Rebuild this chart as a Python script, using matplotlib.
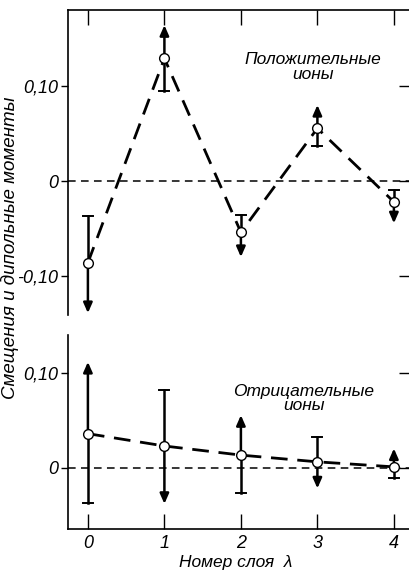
import matplotlib
matplotlib.use("Agg")
import matplotlib.pyplot as plt
import numpy as np

# layer number
lam = [0, 1, 2, 3, 4]

# positive ions: value, upper end, lower end, which end carries an arrow
pos_val = [-0.086, 0.129, -0.054, 0.0555, -0.022]
pos_hi = [-0.037, 0.164, -0.036, 0.080, -0.0095]
pos_lo = [-0.139, 0.095, -0.080, 0.037, -0.0445]
pos_arrow = ['down', 'up', 'down', 'up', 'down']

# negative ions
neg_val = [0.036, 0.023, 0.0134, 0.0063, 0.001]
neg_hi = [0.1116, 0.0825, 0.0555, 0.0326, 0.0204]
neg_lo = [-0.0375, -0.038, -0.027, -0.0217, -0.011]
neg_arrow = ['up', 'down', 'up', 'down', 'up']

xticks = [0, 1, 2, 3, 4]
xticklabels = ['0', '1', '2', '3', '4']

FONT = ['Liberation Sans', 'DejaVu Sans']
plt.rcParams['font.family'] = FONT
plt.rcParams['font.style'] = 'italic'

fig = plt.figure(figsize=(4.1, 5.7), dpi=100)
ax1 = fig.add_axes([0.1659, 0.4474, 0.834, 0.5351])
ax2 = fig.add_axes([0.1659, 0.0719, 0.834, 0.3404])


def draw_series(ax, val, hi, lo, arrow):
    ax.plot(lam, val, color='black', lw=2.0, dashes=(6, 3.5), zorder=3)
    for x, v, h, l, a in zip(lam, val, hi, lo, arrow):
        if a == 'up':
            tip, cap = h, l
        else:
            tip, cap = l, h
        # cap side
        ax.plot([x, x], [v, cap], color='black', lw=1.8, zorder=2)
        ax.plot([x - 0.065, x + 0.065], [cap, cap], color='black', lw=1.4, zorder=2)
        # arrow side
        ax.annotate('', xy=(x, tip), xytext=(x, v),
                    arrowprops=dict(arrowstyle='-|>,head_length=0.5,head_width=0.22',
                                    color='black', lw=1.8,
                                    mutation_scale=12, shrinkA=0, shrinkB=0),
                    zorder=2)
    ax.plot(lam, val, 'o', ms=7, mfc='white', mec='black', mew=1.0, zorder=5)
    ax.axhline(0, color='black', lw=1.1, dashes=(5, 3.5), zorder=1)


def style_axes(ax, ylim, yticks, ylabels, bottom):
    ax.set_xlim(-0.26, 4.21)
    ax.set_ylim(*ylim)
    ax.spines['right'].set_visible(False)
    ax.spines['top'].set_visible(not bottom)
    ax.spines['bottom'].set_visible(bottom)
    ax.spines['left'].set_linewidth(1.2)
    ax.spines['top'].set_linewidth(1.2)
    ax.spines['bottom'].set_linewidth(1.2)
    ax.set_yticks(yticks)
    ax.set_yticklabels(ylabels, fontsize=13)
    ax.tick_params(axis='y', direction='out', length=5, width=1.0, pad=2,
                   right=True)
    ax.set_xticks(xticks)
    if bottom:
        ax.set_xticklabels(xticklabels, fontsize=13)
        ax.tick_params(axis='x', direction='in', length=11, width=1.0,
                       top=False, bottom=True, pad=4)
    else:
        ax.set_xticklabels([])
        ax.tick_params(axis='x', direction='in', length=11, width=1.0,
                       top=True, bottom=False)
    for t in ax.yaxis.get_major_ticks():
        t.tick2line.set_markersize(8)
        t.tick2line.set_marker(matplotlib.lines.TICKLEFT)


draw_series(ax1, pos_val, pos_hi, pos_lo, pos_arrow)
draw_series(ax2, neg_val, neg_hi, neg_lo, neg_arrow)

style_axes(ax1, (-0.141, 0.18), [0.10, 0, -0.10], ['0,10', '0', '-0,10'], False)
style_axes(ax2, (-0.0645, 0.14), [0.10, 0], ['0,10', '0'], True)

ax1.text(2.94, 0.120, 'Положительные\nионы', ha='center', va='center',
         fontsize=12.5, linespacing=1.05)
ax2.text(2.82, 0.073, 'Отрицательные\nионы', ha='center', va='center',
         fontsize=12.5, linespacing=0.9)

fig.text(0.025, 0.565, 'Смещения и дипольные моменты', rotation=90,
         ha='center', va='center', fontsize=13.5)
fig.text(0.576, 0.013, 'Номер слоя  λ', ha='center', va='center', fontsize=12.5)

fig.savefig('out.png', dpi=100)
